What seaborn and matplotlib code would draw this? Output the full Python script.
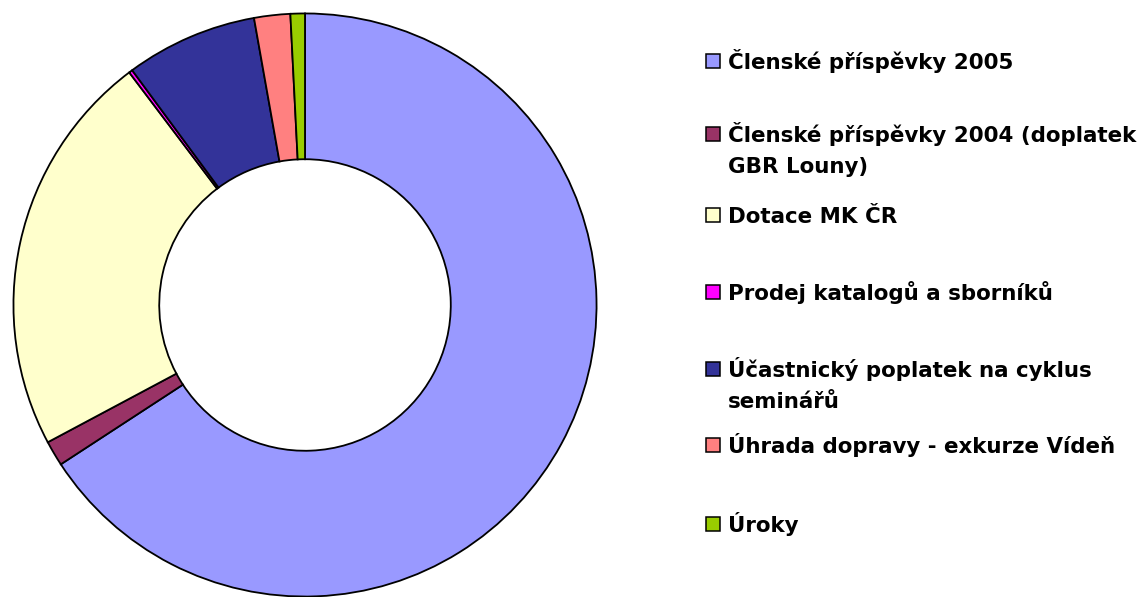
import matplotlib
matplotlib.use("Agg")
import matplotlib.pyplot as plt
import matplotlib.patches as mpatches
import seaborn as sns

# podily prijmu (v %), odhad z grafu
labels = [
    "Členské příspěvky 2005",
    "Členské příspěvky 2004 (doplatek\nGBR Louny)",
    "Dotace MK ČR",
    "Prodej katalogů a sborníků",
    "Účastnický poplatek na cyklus\nseminářů",
    "Úhrada dopravy - exkurze Vídeň",
    "Úroky",
]
values = [65.8, 1.4, 22.5, 0.2, 7.3, 2.0, 0.8]
colors = ["#9999FF", "#993366", "#FFFFCC", "#FF00FF", "#333399", "#FF8080", "#99CC00"]

sns.set_theme(style="white")
plt.rcParams['font.family'] = ['DejaVu Sans']

W, H = 1141, 597
fig = plt.figure(figsize=(W / 100, H / 100), dpi=100)

# donut
cx, cy, r = 305, 305, 293
ax = fig.add_axes([(cx - r) / W, (H - cy - r) / H, 2 * r / W, 2 * r / H])
ax.pie(values, colors=colors, startangle=90, counterclock=False, radius=1,
       wedgeprops=dict(width=0.5, edgecolor="black", linewidth=1.3))
ax.set_xlim(-1.005, 1.005)
ax.set_ylim(-1.005, 1.005)
ax.set_aspect("equal")
ax.axis("off")

# legenda vpravo
baselines = [69, 142, 223, 300, 377, 453, 532]
line_gap = 31
for lab, col, b in zip(labels, colors, baselines):
    sq = mpatches.Rectangle((706 / W, 1 - (b - 1) / H), 14 / W, 14 / H,
                            transform=fig.transFigure, facecolor=col,
                            edgecolor="black", linewidth=1.1)
    fig.add_artist(sq)
    for k, line in enumerate(lab.split("\n")):
        fig.text(728 / W, 1 - (b + k * line_gap) / H, line, fontsize=15.4,
                 fontweight="bold", va="baseline", ha="left", color="black")

fig.savefig("out.png", dpi=100)
